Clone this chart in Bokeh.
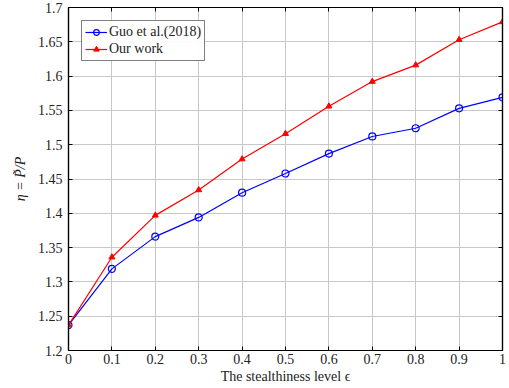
from bokeh.plotting import figure
from bokeh.models import FixedTicker, LinearAxis, Range1d, Legend, LegendItem
from bokeh.embed import file_html
from bokeh.resources import INLINE

eps = [0.0, 0.1, 0.2, 0.3, 0.4, 0.5, 0.6, 0.7, 0.8, 0.9, 1.0]
guo = [1.237, 1.319, 1.366, 1.394, 1.430, 1.458, 1.487, 1.512, 1.524, 1.553, 1.569]
ours = [1.237, 1.336, 1.397, 1.434, 1.479, 1.516, 1.556, 1.592, 1.616, 1.653, 1.679]

x_ticks = [0.0, 0.1, 0.2, 0.3, 0.4, 0.5, 0.6, 0.7, 0.8, 0.9, 1.0]
x_tick_labels = ["0", "0.1", "0.2", "0.3", "0.4", "0.5", "0.6", "0.7", "0.8", "0.9", "1"]
y_ticks = [1.2, 1.25, 1.3, 1.35, 1.4, 1.45, 1.5, 1.55, 1.6, 1.65, 1.7]
y_tick_labels = ["1.2", "1.25", "1.3", "1.35", "1.4", "1.45", "1.5", "1.55", "1.6", "1.65", "1.7"]

FONT = "Liberation Serif"

p = figure(width=508, height=388, output_backend="svg", toolbar_location=None,
           x_range=Range1d(0, 1), y_range=Range1d(1.2, 1.7),
           min_border_left=68, min_border_right=6, min_border_top=7, min_border_bottom=38,
           x_axis_label="The stealthiness level ϵ", y_axis_label="η = P̃/P")

p.background_fill_color = "white"
p.border_fill_color = "white"
p.outline_line_color = "black"
p.outline_line_width = 1.2

def style_axis(ax, labels=True):
    ax.axis_line_color = "black"
    ax.axis_line_width = 1.2
    ax.major_tick_in = 4
    ax.major_tick_out = 0
    ax.minor_tick_line_color = None
    ax.major_tick_line_color = "black"
    ax.major_label_text_font = FONT
    ax.major_label_text_font_size = "14px"
    ax.major_label_text_color = "#222222" if labels else None
    ax.axis_label_text_font = FONT
    ax.axis_label_text_font_size = "14px"
    ax.axis_label_text_font_style = "normal"
    ax.axis_label_text_color = "#222222"

p.xaxis.ticker = FixedTicker(ticks=x_ticks)
p.yaxis.ticker = FixedTicker(ticks=y_ticks)
p.xaxis.major_label_overrides = dict(zip(x_ticks, x_tick_labels))
p.yaxis.major_label_overrides = dict(zip(y_ticks, y_tick_labels))
p.xaxis.axis_label_standoff = 2
p.yaxis.axis_label_standoff = 7
p.xaxis.major_label_standoff = 3
p.yaxis.major_label_standoff = 6
for ax in p.xaxis + p.yaxis:
    style_axis(ax)
p.yaxis.axis_label_text_font_style = "italic"

top = LinearAxis(ticker=FixedTicker(ticks=x_ticks))
right = LinearAxis(ticker=FixedTicker(ticks=y_ticks))
for ax in (top, right):
    style_axis(ax, labels=False)
    ax.major_label_text_font_size = "0px"
    ax.major_label_standoff = 0
p.add_layout(top, "above")
p.add_layout(right, "right")

p.xgrid.ticker = FixedTicker(ticks=x_ticks)
p.ygrid.ticker = FixedTicker(ticks=y_ticks)
p.grid.grid_line_color = "#c8c8c8"
p.grid.grid_line_width = 1

l1 = p.line(eps, guo, line_color="blue", line_width=1.2)
m1 = p.scatter(eps, guo, marker="circle", size=7, line_color="blue",
               fill_color=None, line_width=1.2)
l2 = p.line(eps, ours, line_color="red", line_width=1.2)
m2 = p.scatter(eps, ours, marker="triangle", size=6, line_color="red",
               fill_color="red", line_width=1)

legend = Legend(items=[LegendItem(label="Guo et al.(2018)", renderers=[l1, m1]),
                       LegendItem(label="Our work", renderers=[l2, m2])],
                location="top_left")
legend.label_text_font = FONT
legend.label_text_font_size = "14px"
legend.label_text_color = "#222222"
legend.border_line_color = "black"
legend.border_line_width = 1
legend.margin = 13
legend.padding = 3
legend.spacing = 1
legend.glyph_width = 22
legend.glyph_height = 14
legend.label_height = 14
legend.label_standoff = 2
p.add_layout(legend)

open("out.html", "w").write(file_html(p, INLINE))
